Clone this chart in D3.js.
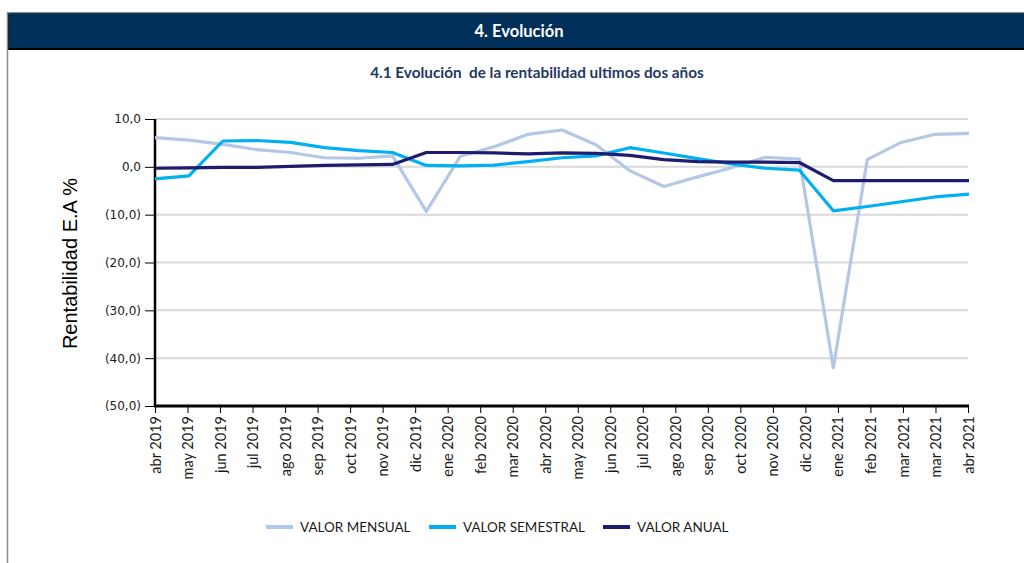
<!DOCTYPE html>
<html>
<head>
<meta charset="utf-8">
<script src="https://cdn.jsdelivr.net/npm/d3@7"></script>
<style>
  html, body { margin: 0; padding: 0; background: #fff; }
  svg { display: block; }
</style>
</head>
<body>
<svg id="chart" width="1024" height="563"></svg>
<script>
// ---- Data ----
const months = ["abr 2019","may 2019","jun 2019","jul 2019","ago 2019","sep 2019","oct 2019","nov 2019","dic 2019",
  "ene 2020","feb 2020","mar 2020","abr 2020","may 2020","jun 2020","jul 2020","ago 2020","sep 2020","oct 2020",
  "nov 2020","dic 2020","ene 2021","feb 2021","mar 2021","abr 2021"];
const tickLabels = ["abr 2019","may 2019","jun 2019","jul 2019","ago 2019","sep 2019","oct 2019","nov 2019","dic 2019",
  "ene 2020","feb 2020","mar 2020","abr 2020","may 2020","jun 2020","jul 2020","ago 2020","sep 2020","oct 2020",
  "nov 2020","dic 2020","ene 2021","feb 2021","mar 2021","mar 2021","abr 2021"];
const valorMensual = [6.1, 5.6, 4.7, 3.6, 3.0, 1.9, 1.8, 2.3, -9.3, 2.2, 4.2, 6.8, 7.7, 4.6, -0.8, -4.1, -2.1,
  -0.2, 2.0, 1.6, -42.0, 1.5, 5.1, 6.8, 7.0];
const valorSemestral = [-2.5, -1.9, 5.4, 5.5, 5.1, 4.0, 3.4, 3.0, 0.3, 0.2, 0.35, 1.1, 1.9, 2.3, 4.0, 2.9, 1.7,
  0.6, -0.3, -0.7, -9.2, -8.3, -7.3, -6.3, -5.7];
const valorAnual = [-0.3, -0.2, -0.1, -0.1, 0.1, 0.3, 0.4, 0.5, 3.0, 3.0, 2.9, 2.7, 2.9, 2.8, 2.4, 1.5, 1.1,
  1.0, 1.0, 0.9, -2.9, -2.9, -2.9, -2.9, -2.9];
const yTicks = [10, 0, -10, -20, -30, -40, -50];
const seriesNames = ["VALOR MENSUAL", "VALOR SEMESTRAL", "VALOR ANUAL"];
const seriesColors = ["#b4c7e7", "#00b0f0", "#1e1c6e"];

// ---- Layout ----
const svg = d3.select("#chart");
const W = 1024, H = 563;
const plot = { left: 155, right: 968, top: 119, bottom: 406 };

// Header band
svg.append("rect").attr("x", 8).attr("y", 12).attr("width", W - 8).attr("height", 38).attr("fill", "#000");
svg.append("rect").attr("x", 7).attr("y", 12).attr("width", W - 7).attr("height", 1.5).attr("fill", "#8a8a8a");
svg.append("rect").attr("x", 9).attr("y", 13.5).attr("width", W - 9).attr("height", 34.5).attr("fill", "#00305a");
svg.append("line").attr("x1", 7.5).attr("x2", 7.5).attr("y1", 12).attr("y2", H)
  .attr("stroke", "#8a8a8a").attr("stroke-width", 1.5);

svg.append("text").attr("x", 519).attr("y", 36.5).attr("text-anchor", "middle")
  .attr("font-family", "Lato, 'Open Sans', sans-serif").attr("font-weight", "bold").attr("font-size", 16.5)
  .attr("fill", "#ffffff").text("4. Evolución");

svg.append("text").attr("x", 537).attr("y", 78).attr("text-anchor", "middle")
  .attr("font-family", "Lato, 'Open Sans', sans-serif").attr("font-weight", "bold").attr("font-size", 15.3)
  .attr("fill", "#1f3864").attr("xml:space", "preserve").text("4.1 Evolución  de la rentabilidad ultimos dos años");

// Scales
const x = d3.scalePoint().domain(months).range([plot.left, plot.right + 1]);
const xTick = d3.scalePoint().domain(d3.range(tickLabels.length)).range([plot.left, plot.right]);
const y = d3.scaleLinear().domain([-50, 10]).range([plot.bottom, plot.top]);

// Grid
svg.append("g").selectAll("line").data(yTicks).join("line")
  .attr("x1", plot.left).attr("x2", plot.right)
  .attr("y1", d => y(d)).attr("y2", d => y(d))
  .attr("stroke", "#d9d9d9").attr("stroke-width", 2);

// Y axis
const yAxis = d3.axisLeft(y).tickValues(yTicks).tickSize(10).tickPadding(4)
  .tickFormat(d => {
    const s = Math.abs(d).toFixed(1).replace(".", ",");
    return d < 0 ? "(" + s + ")" : s;
  });
const gy = svg.append("g").attr("transform", `translate(${plot.left},0)`).call(yAxis);
gy.select(".domain").remove();
gy.selectAll(".tick line").attr("stroke", "#000").attr("stroke-width", 1);
gy.selectAll(".tick text").attr("font-family", "'DejaVu Sans', sans-serif").attr("font-size", 12).attr("fill", "#1a1a1a");
svg.append("line").attr("x1", plot.left).attr("x2", plot.left).attr("y1", plot.top).attr("y2", plot.bottom + 1)
  .attr("stroke", "#000").attr("stroke-width", 2.5);

// X axis
const xAxis = d3.axisBottom(xTick).tickSize(7).tickPadding(3).tickFormat(i => tickLabels[i]);
const gx = svg.append("g").attr("transform", `translate(0,${plot.bottom})`).call(xAxis);
gx.select(".domain").remove();
gx.selectAll(".tick line").attr("stroke", "#000").attr("stroke-width", 1);
gx.selectAll(".tick text")
  .attr("font-family", "Lato, 'Open Sans', sans-serif").attr("font-size", 14.5).attr("fill", "#1a1a1a")
  .attr("text-anchor", "end").attr("dy", "0.35em")
  .attr("transform", "translate(0,10) rotate(-90)")
  .attr("x", 0).attr("y", 0);
svg.append("line").attr("x1", plot.left - 1).attr("x2", plot.right + 1).attr("y1", plot.bottom).attr("y2", plot.bottom)
  .attr("stroke", "#000").attr("stroke-width", 3);

// Y axis title
svg.append("text").attr("transform", `translate(77,${(plot.top + plot.bottom) / 2 + 1}) rotate(-90)`)
  .attr("text-anchor", "middle").attr("font-family", "'Liberation Sans', Arial, sans-serif")
  .attr("font-size", 20).attr("fill", "#000").text("Rentabilidad E.A %");

// Lines
const seriesData = [valorMensual, valorSemestral, valorAnual];
const line = d3.line().x((d, i) => x(months[i])).y(d => y(d));
svg.append("g").selectAll("path").data(seriesData).join("path")
  .attr("d", d => line(d)).attr("fill", "none")
  .attr("stroke", (d, i) => seriesColors[i]).attr("stroke-width", 3.2)
  .attr("stroke-linejoin", "round");

// Legend
const legendX = [266, 429, 603];
const lg = svg.append("g").selectAll("g").data(seriesNames).join("g")
  .attr("transform", (d, i) => `translate(${legendX[i]},527)`);
lg.append("line").attr("x1", 0).attr("x2", 27).attr("y1", 0).attr("y2", 0)
  .attr("stroke", (d, i) => seriesColors[i]).attr("stroke-width", 4);
lg.append("text").attr("x", 34).attr("y", 0).attr("dy", "0.35em")
  .attr("font-family", "Lato, 'Open Sans', sans-serif").attr("font-size", 13.5).attr("fill", "#1a1a1a")
  .text(d => d);
</script>
</body>
</html>
